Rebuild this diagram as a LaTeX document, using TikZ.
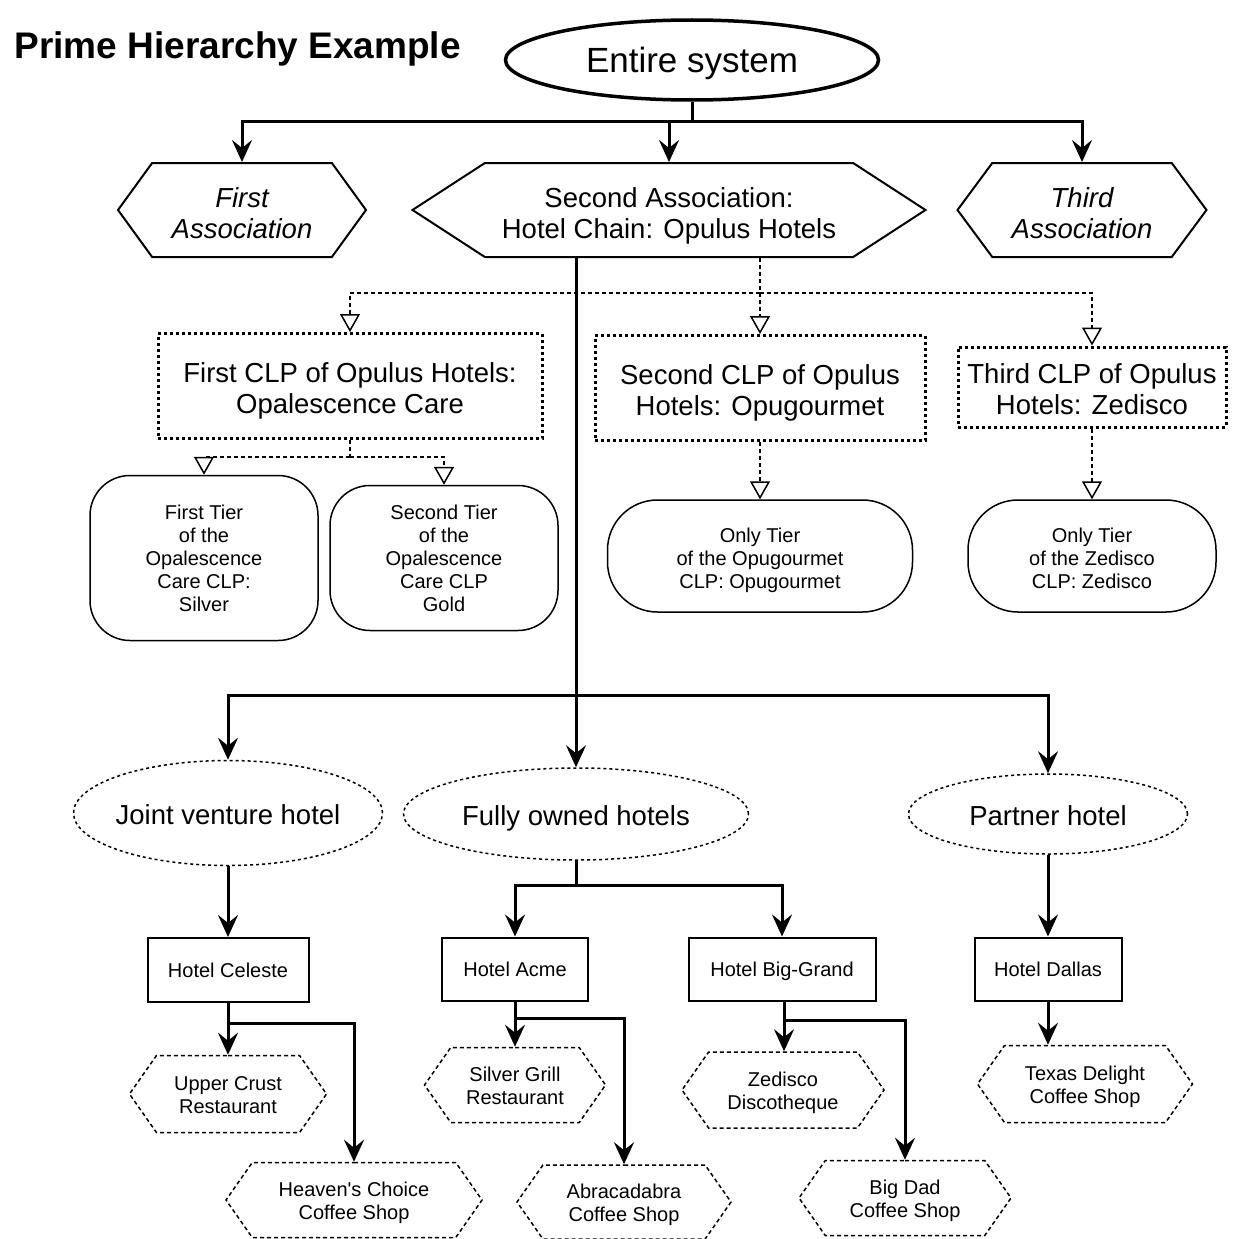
\documentclass[tikz,border=0pt]{standalone}
\usepackage{fontspec}
\setmainfont{Liberation Sans}
\usetikzlibrary{shapes.geometric,shapes.symbols,arrows.meta}

\newcommand{\bigtxt}{\fontsize{27.5}{30.5}\selectfont}
\newcommand{\smalltxt}{\fontsize{20}{23}\selectfont}

\begin{document}
\begin{tikzpicture}[x=1pt,y=-1pt,
	trunk/.style={line width=3pt},
	conn/.style={line width=3pt,-{Stealth[length=22pt,width=20pt,inset=8pt]}},
	dotln/.style={line width=1.5pt,dash pattern=on 4pt off 3pt},
	tri/.style={dotln,-{Triangle[open,length=18pt,width=20pt,line width=1.5pt]}},
	assoc/.style={shape=signal,signal to=east and west,draw,line width=2pt,inner sep=0pt,align=center,font=\bigtxt,text height=56pt,text depth=0pt},
	clp/.style={draw,line width=3pt,dash pattern=on 3pt off 3pt,inner sep=0pt,align=center,font=\bigtxt,text height=54pt,text depth=0pt},
	tier/.style={draw,line width=1.5pt,rounded corners=40pt,inner sep=0pt,align=center,font=\smalltxt},
	own/.style={ellipse,draw,line width=1.5pt,dash pattern=on 3pt off 3pt,inner ysep=0pt,inner xsep=-20pt,font=\bigtxt,text height=23pt,text depth=0pt},
	hotel/.style={draw,line width=2pt,inner sep=0pt,font=\smalltxt,text height=14.5pt,text depth=0pt},
	shop/.style={shape=signal,signal to=east and west,signal pointer angle=110,draw,line width=1.5pt,dash pattern=on 4pt off 3pt,inner sep=0pt,align=center,font=\smalltxt,text height=39pt,text depth=0pt}]

	\useasboundingbox (0,0) rectangle (1233,1239);

	\node[anchor=west,font=\bfseries\fontsize{37}{40}\selectfont] (title) at (11,49) {Prime Hierarchy Example};
	\node[ellipse,draw,line width=3.5pt,minimum width=373,minimum height=80,inner sep=0pt,font=\fontsize{35}{38}\selectfont,text height=25pt,text depth=0pt] (e) at (692,60) {Entire system};

	% associations
	\node[assoc,signal pointer angle=108,minimum width=248,minimum height=94] (a_1) at (242,210) {\itshape First\\\itshape Association};
	\node[assoc,signal pointer angle=66,minimum width=513,minimum height=94] (a_2) at (669,210) {Second Association:\\Hotel Chain: Opulus Hotels};
	\node[assoc,signal pointer angle=107,minimum width=249,minimum height=94] (a_3) at (1082,210) {\itshape Third\\\itshape Association};

	% CLPs and tiers
	\node[clp,minimum width=384,minimum height=105] (c_1) at (350,386) {First CLP of Opulus Hotels:\\Opalescence Care};
	\node[clp,minimum width=330,minimum height=105] (c_2) at (760,388) {Second CLP of Opulus\\Hotels: Opugourmet};
	\node[clp,minimum width=268,minimum height=80] (c_3) at (1092,387) {Third CLP of Opulus\\Hotels: Zedisco};

	\node[tier,minimum width=228,minimum height=165] (t_1) at (204,558) {First Tier\\of the\\Opalescence\\Care CLP:\\Silver};
	\node[tier,minimum width=228,minimum height=145] (t_2) at (444,558) {Second Tier\\of the\\Opalescence\\Care CLP\\Gold};
	\node[tier,rounded corners=50pt,minimum width=305,minimum height=112,text height=64pt,text depth=0pt] (t_3) at (760,556) {Only Tier\\of the Opugourmet\\CLP: Opugourmet};
	\node[tier,rounded corners=50pt,minimum width=248,minimum height=112,text height=64pt,text depth=0pt] (t_4) at (1092,556) {Only Tier\\of the Zedisco\\CLP: Zedisco};

	% ownership
	\node[own,minimum width=309,minimum height=105] (o_1) at (228,813) {Joint venture hotel};
	\node[own,minimum width=345,minimum height=92] (o_2) at (576,814) {Fully owned hotels};
	\node[own,minimum width=279,minimum height=80] (o_3) at (1048,814) {Partner hotel};

	% hotels
	\node[hotel,minimum width=161,minimum height=64] (h_1) at (228,970) {Hotel Celeste};
	\node[hotel,minimum width=146,minimum height=63] (h_2) at (515,969) {Hotel Acme};
	\node[hotel,minimum width=187,minimum height=63] (h_3) at (782,969) {Hotel Big-Grand};
	\node[hotel,minimum width=147,minimum height=63] (h_4) at (1048,969) {Hotel Dallas};

	% outlets
	\node[shop,minimum width=197,minimum height=77] (s_1) at (228,1094) {Upper Crust\\Restaurant};
	\node[shop,minimum width=256,minimum height=75] (s_2) at (354,1200) {Heaven\textquotesingle s Choice\\Coffee Shop};
	\node[shop,minimum width=181,minimum height=75] (s_3) at (515,1085) {Silver Grill\\Restaurant};
	\node[shop,minimum width=214,minimum height=74] (s_4) at (624,1202) {Abracadabra\\Coffee Shop};
	\node[shop,minimum width=202,minimum height=76] (s_5) at (783,1090) {Zedisco\\Discotheque};
	\node[shop,minimum width=212,minimum height=75] (s_6) at (905,1198) {Big Dad\\Coffee Shop};
	\node[shop,minimum width=215,minimum height=77] (s_7) at (1085,1084) {Texas Delight\\Coffee Shop};

	\coordinate (j_1) at (692,121);
	\coordinate (j_2) at (576,695);
	\coordinate (j_3) at (760,293);
	\coordinate (j_4) at (350,457);
	\coordinate (j_5) at (576,885);
	\coordinate (j_6) at (228,1023);
	\coordinate (j_7) at (515,1018);
	\coordinate (j_8) at (784,1020);

	\draw[trunk] (e.south) -- (j_1);
	\draw[conn] (j_1) -| (a_1.north);
	\draw[conn] (j_1) -| (a_2.north);
	\draw[conn] (j_1) -| (a_3.north);

	\draw[trunk] (a_2.south -| j_2) -- (j_2);
	\draw[conn] (j_2) -| (o_1.north);
	\draw[conn] (j_2) -- (o_2.north);
	\draw[conn] (j_2) -| (o_3.north);

	\draw[dotln] (a_2.south -| j_3) -- (j_3);
	\draw[tri] (j_3) -| (c_1.north);
	\draw[tri] (j_3) -- (c_2.north);
	\draw[tri] (j_3) -| (c_3.north);
	\draw[dotln] (c_1.south) -- (j_4);
	\draw[tri] (j_4) -| (t_1.north);
	\draw[tri] (j_4) -| (t_2.north);
	\draw[tri] (c_2.south) -- (t_3.north);
	\draw[tri] (c_3.south) -- (t_4.north);

	\draw[conn] (o_1.south) -- (h_1.north);
	\draw[trunk] (o_2.south) -- (j_5);
	\draw[conn] (j_5) -| (h_2.north);
	\draw[conn] (j_5) -| (h_3.north);
	\draw[conn] (o_3.south) -- (h_4.north);

	\draw[conn] (h_1.south) -- (s_1.north);
	\draw[conn] (j_6) -| (s_2.north);
	\draw[conn] (h_2.south) -- (s_3.north);
	\draw[conn] (j_7) -| (s_4.north);
	\draw[conn] (h_3.south -| j_8) -- (j_8 |- s_5.north);
	\draw[conn] (j_8) -| (s_6.north);
	\draw[conn] (h_4.south) -- (h_4.south |- s_7.north);
\end{tikzpicture}
\end{document}
